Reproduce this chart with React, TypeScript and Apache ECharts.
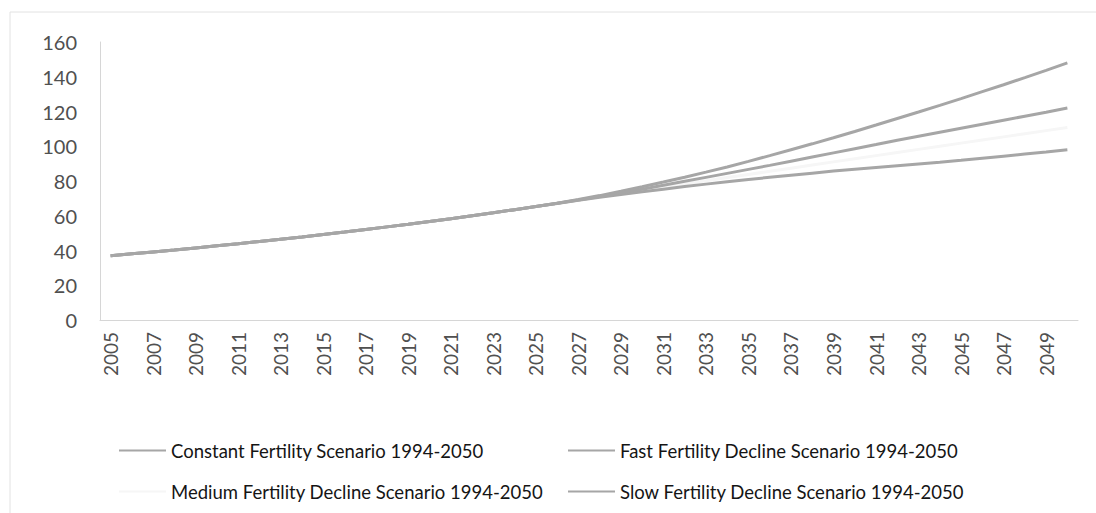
import React, { useEffect, useRef } from "react";
import * as echarts from "echarts";

// Years on the category axis
const years: string[] = [];
for (let y = 2005; y <= 2050; y++) years.push(String(y));

// Projected values by scenario, one value per year 2005–2050
const constantFertility = [
  37.0, 38.1, 39.2, 40.3, 41.5, 42.7, 43.9, 45.2, 46.5, 47.8,
  49.2, 50.6, 52.1, 53.6, 55.1, 56.7, 58.3, 60.0, 61.7, 63.5,
  65.3, 67.2, 69.3, 71.6, 74.1, 76.7, 79.4, 82.2, 85.1, 88.1,
  91.3, 94.6, 98.0, 101.4, 104.9, 108.5, 112.2, 116.0, 119.7, 123.5,
  127.4, 131.4, 135.4, 139.5, 143.7, 148.0,
];
const fastDecline = [
  37.0, 38.1, 39.2, 40.3, 41.5, 42.7, 43.9, 45.2, 46.5, 47.8,
  49.2, 50.6, 52.1, 53.6, 55.1, 56.7, 58.3, 60.0, 61.7, 63.5,
  65.3, 67.1, 68.9, 70.6, 72.2, 73.8, 75.3, 76.8, 78.2, 79.6,
  80.9, 82.1, 83.3, 84.5, 85.7, 86.8, 87.8, 88.8, 89.8, 90.8,
  91.9, 93.1, 94.3, 95.5, 96.7, 98.0,
];
const mediumDecline = [
  37.0, 38.1, 39.2, 40.3, 41.5, 42.7, 43.9, 45.2, 46.5, 47.8,
  49.2, 50.6, 52.1, 53.6, 55.1, 56.7, 58.3, 60.0, 61.7, 63.5,
  65.3, 67.2, 69.0, 70.9, 72.7, 74.6, 76.4, 78.3, 80.1, 82.0,
  83.8, 85.6, 87.4, 89.2, 91.0, 92.8, 94.6, 96.4, 98.2, 100.0,
  101.8, 103.6, 105.4, 107.2, 109.0, 110.8,
];
const slowDecline = [
  37.0, 38.1, 39.2, 40.3, 41.5, 42.7, 43.9, 45.2, 46.5, 47.8,
  49.2, 50.6, 52.1, 53.6, 55.1, 56.7, 58.3, 60.0, 61.7, 63.5,
  65.3, 67.2, 69.1, 71.1, 73.2, 75.3, 77.5, 79.8, 82.1, 84.4,
  86.7, 89.0, 91.4, 93.8, 96.2, 98.6, 101.0, 103.5, 105.8, 108.1,
  110.4, 112.7, 115.0, 117.3, 119.6, 122.0,
];

const seriesNames = [
  "Constant Fertility Scenario 1994-2050",
  "Fast Fertility Decline Scenario 1994-2050",
  "Medium Fertility Decline Scenario 1994-2050",
  "Slow Fertility Decline Scenario 1994-2050",
];

const FONT = "Lato, 'Open Sans', sans-serif";
const LINE_GREY = "#a6a6a6";
const FAINT = "#f6f6f6";

export default function App() {
  const ref = useRef<HTMLDivElement>(null);

  useEffect(() => {
    if (!ref.current) return;
    const chart = echarts.init(ref.current, undefined, { renderer: "svg" });

    const mkLine = (name: string, data: number[], color: string) => ({
      name,
      type: "line",
      data,
      symbol: "none",
      lineStyle: { width: 3, color },
      itemStyle: { color },
      z: color === LINE_GREY ? 3 : 2,
    });

    const mkLegend = (name: string, left: number, top: number) => ({
      data: [name],
      left,
      top,
      icon: "rect",
      itemWidth: 47,
      itemHeight: 2,
      itemGap: 0,
      selectedMode: false,
      textStyle: { fontFamily: FONT, fontSize: 18.5, color: "#151515" },
    });

    chart.setOption({
      animation: false,
      backgroundColor: "#ffffff",
      graphic: [
        {
          type: "rect",
          shape: { x: 10, y: 12, width: 1200, height: 600 },
          style: { fill: "none", stroke: "#e2e2e2", lineWidth: 1 },
          silent: true,
        },
      ],
      grid: { left: 100, right: 18, top: 42, bottom: 193, containLabel: false },
      legend: [
        mkLegend(seriesNames[0], 114, 436),
        mkLegend(seriesNames[1], 563, 436),
        mkLegend(seriesNames[2], 114, 477),
        mkLegend(seriesNames[3], 563, 477),
      ],
      xAxis: {
        type: "category",
        data: years,
        boundaryGap: true,
        axisLine: { show: true, lineStyle: { color: "#d6d6d6", width: 1 } },
        axisTick: { show: false },
        axisLabel: {
          interval: 1,
          rotate: 90,
          margin: 12,
          fontFamily: FONT,
          fontSize: 19,
          color: "#505050",
        },
        splitLine: { show: false },
      },
      yAxis: {
        type: "value",
        min: 0,
        max: 160,
        interval: 20,
        axisLine: { show: true, lineStyle: { color: "#d6d6d6", width: 1 } },
        axisTick: { show: false },
        axisLabel: {
          margin: 23,
          fontFamily: FONT,
          fontSize: 20,
          color: "#505050",
        },
        splitLine: { show: false },
      },
      series: [
        mkLine(seriesNames[0], constantFertility, LINE_GREY),
        mkLine(seriesNames[1], fastDecline, LINE_GREY),
        mkLine(seriesNames[2], mediumDecline, FAINT),
        mkLine(seriesNames[3], slowDecline, LINE_GREY),
      ],
    });

    return () => chart.dispose();
  }, []);

  return (
    <div
      ref={ref}
      style={{ position: "absolute", left: 0, top: 0, width: 1096, height: 513 }}
    />
  );
}
